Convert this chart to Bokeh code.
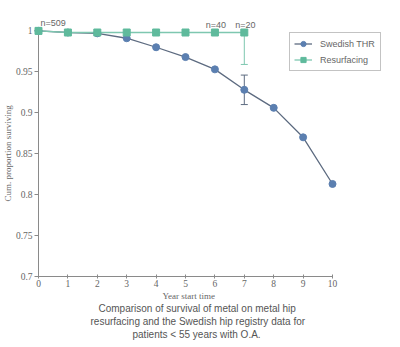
from bokeh.plotting import figure
from bokeh.models import Range1d, FixedTicker, Whisker, ColumnDataSource, Legend, LegendItem, Title, TeeHead
from bokeh.core.properties import value
from bokeh.embed import file_html
from bokeh.resources import INLINE

# ---- data ----
years = [0, 1, 2, 3, 4, 5, 6, 7, 8, 9, 10]
swedish = [1.0, 0.998, 0.997, 0.991, 0.980, 0.968, 0.953, 0.928, 0.906, 0.870, 0.813]
resurf_years = [0, 1, 2, 3, 4, 5, 6, 7]
resurf = [1.0, 0.998, 0.998, 0.998, 0.998, 0.998, 0.998, 0.998]
err_x = [7]
swedish_lower = [0.910]
swedish_upper = [0.946]
resurf_lower = [0.959]
resurf_upper = [0.998]
n_x = [0, 6, 7]
n_y = [1.0, 0.998, 0.998]
n_labels = ["n=509", "n=40", "n=20"]
y_ticks = [0.7, 0.75, 0.8, 0.85, 0.9, 0.95, 1.0]
y_tick_labels = ["0.7", "0.75", "0.8", "0.85", "0.9", "0.95", "1"]
x_ticks = [0, 1, 2, 3, 4, 5, 6, 7, 8, 9, 10]
series_names = ["Swedish THR", "Resurfacing"]
x_label = "Year start time"
y_label = "Cum. proportion surviving"
caption_lines = [
    "Comparison of survival of metal on metal hip",
    "resurfacing and the Swedish hip registry data for",
    "patients < 55 years with O.A.",
]
caption_offsets = [60, 52, 94]   # left indent (px) of each centred caption line

SW_LINE = "#5d6b80"
SW_FILL = "#5b7fb0"
RS_LINE = "#7ec7b0"
RS_FILL = "#5fba9c"
AXIS = "#8a8a8a"
TXT = "#666666"

p = figure(width=400, height=347, x_range=Range1d(0, 11.7), y_range=Range1d(0.7, 1.02),
           output_backend="svg", toolbar_location=None,
           min_border_left=38, min_border_top=14, min_border_right=18, min_border_bottom=71)
p.outline_line_color = None
p.xgrid.visible = False
p.ygrid.visible = False
p.background_fill_color = "white"

p.xaxis.bounds = (0, 10)
p.yaxis.bounds = (0.7, 1.0)
p.xaxis.ticker = FixedTicker(ticks=x_ticks)
p.yaxis.ticker = FixedTicker(ticks=y_ticks)
p.yaxis.major_label_overrides = {t: l for t, l in zip(y_ticks, y_tick_labels)}
for ax in (p.xaxis[0], p.yaxis[0]):
    ax.axis_line_color = AXIS
    ax.major_tick_line_color = AXIS
    ax.minor_tick_line_color = None
    ax.major_label_text_font = "Liberation Serif"
    ax.major_label_text_font_size = "9.5px"
    ax.major_label_text_color = TXT
p.xaxis.major_tick_out = 2
p.xaxis.major_tick_in = 2
p.yaxis.major_tick_out = 4
p.yaxis.major_tick_in = 0
p.yaxis.major_label_standoff = 2
p.xaxis.major_label_standoff = 1

# axis titles as positioned titles
p.add_layout(Title(text=y_label, align="left", offset=75, standoff=0,
                   text_font="Liberation Serif", text_font_size="9px",
                   text_font_style="normal", text_color=TXT), "left")
p.add_layout(Title(text=x_label, align="left", offset=124, standoff=-1,
                   text_font="Liberation Serif", text_font_size="9px",
                   text_font_style="normal", text_color=TXT), "below")

# error bars
p.add_layout(Whisker(source=ColumnDataSource(dict(x=err_x, lo=resurf_lower, hi=resurf_upper)),
                     base="x", lower="lo", upper="hi", line_color=RS_LINE, line_width=1,
                     lower_head=TeeHead(size=7, line_color=RS_LINE), upper_head=None))
p.add_layout(Whisker(source=ColumnDataSource(dict(x=err_x, lo=swedish_lower, hi=swedish_upper)),
                     base="x", lower="lo", upper="hi", line_color=SW_LINE, line_width=1,
                     lower_head=TeeHead(size=7, line_color=SW_LINE),
                     upper_head=TeeHead(size=7, line_color=SW_LINE)))

sw_l = p.line(years, swedish, line_color=SW_LINE, line_width=1.3)
sw_m = p.scatter(years, swedish, marker="circle", size=7, fill_color=SW_FILL, line_color=SW_FILL,
                 level="overlay")
rs_l = p.line(resurf_years, resurf, line_color=RS_LINE, line_width=1.3)
rs_m = p.scatter(resurf_years, resurf, marker="square", size=7, fill_color=RS_FILL, line_color=RS_FILL,
                 level="overlay")

p.text(x=n_x[:1], y=n_y[:1], text=n_labels[:1], x_offset=2, y_offset=-3,
       text_font=value("Liberation Sans"), text_font_size="9px", text_color=TXT,
       text_align="left", text_baseline="bottom")
p.text(x=n_x[1:], y=n_y[1:], text=n_labels[1:], x_offset=1, y_offset=-3,
       text_font=value("Liberation Sans"), text_font_size="9px", text_color=TXT,
       text_align="center", text_baseline="bottom")

legend = Legend(items=[LegendItem(label=series_names[0], renderers=[sw_l, sw_m]),
                       LegendItem(label=series_names[1], renderers=[rs_l, rs_m])],
                location=(251, 205))
legend.label_text_font = "Liberation Sans"
legend.label_text_font_size = "9px"
legend.label_text_color = TXT
legend.border_line_color = "#888888"
legend.border_line_width = 1
legend.glyph_width = 18
legend.glyph_height = 13
legend.label_standoff = 8
legend.label_width = 56
legend.label_height = 13
legend.padding = 4
legend.spacing = 3
legend.margin = 0
p.add_layout(legend, "center")

for line, off in zip(caption_lines, caption_offsets):
    p.add_layout(Title(text=line, align="left", offset=off, standoff=0,
                       text_font="Liberation Sans", text_font_size="10px",
                       text_font_style="normal", text_color="#555555"), "below")

open("out.html", "w").write(file_html(p, INLINE))
